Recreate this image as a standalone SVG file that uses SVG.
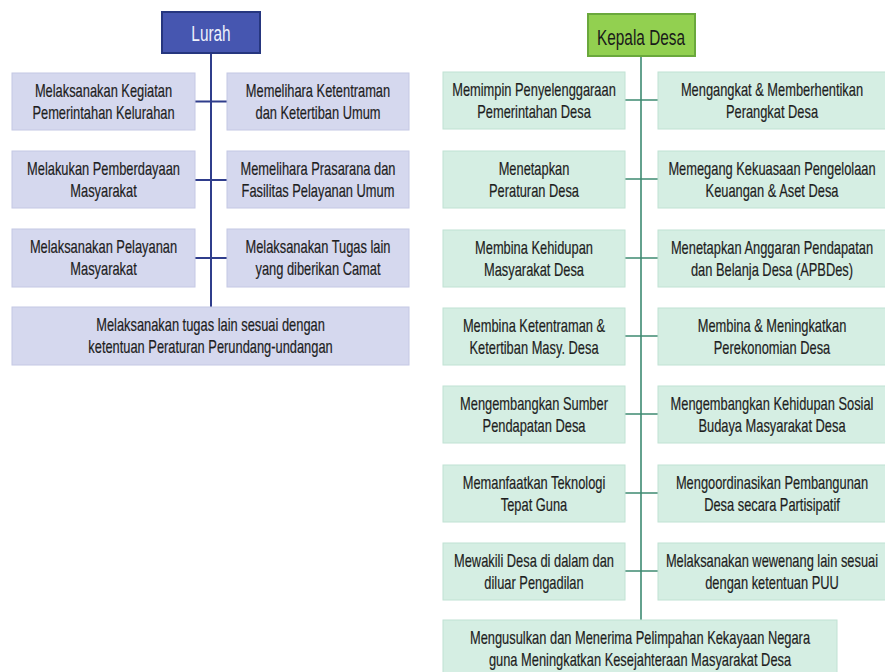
<svg xmlns="http://www.w3.org/2000/svg" width="885" height="672" viewBox="0 0 885 672">
<style>
.bg{fill:#ffffff}
.lb{fill:#d5d8ee;stroke:#c4c8e4;stroke-width:1}
.gb{fill:#d5eee3;stroke:#c0e2d3;stroke-width:1}
.t{font-family:"Liberation Sans",Arial,sans-serif;font-size:18px;fill:#1e1e1e;stroke:#1e1e1e;stroke-width:0.2;text-anchor:middle}
.h1{fill:#4656b0;stroke:#26367f;stroke-width:2}
.h2{fill:#92d050;stroke:#6aa83c;stroke-width:2}
.ht{font-family:"Liberation Sans",Arial,sans-serif;font-size:22px;text-anchor:middle}
.cl{stroke:#2f3d8c;stroke-width:2;fill:none}
.cg{stroke:#3e8a72;stroke-width:1.6;fill:none}
</style>
<rect class="bg" x="0" y="0" width="885" height="672"/>
<g id="connectors">
<path class="cl" d="M211 53V307M195 101.5H227M195 180H227M195 258H227"/>
<path class="cg" d="M641 56V620M625 100H658M625 179H658M625 258H658M625 336H658M625 414H658M625 493H658M625 571H658"/>
</g>
<g id="lurah">
<rect class="h1" x="162" y="12" width="98" height="41"/>
<text class="ht" fill="#eef1fb" transform="translate(211 0) scale(0.70 1)" y="41">Lurah</text>
</g>
<g id="l1"><rect class="lb" x="12" y="73" width="183" height="57"/>
<text class="t" transform="translate(103.5 0) scale(0.715 1)"><tspan x="0" y="97">Melaksanakan Kegiatan</tspan><tspan x="0" y="119">Pemerintahan Kelurahan</tspan></text></g>
<g id="r1"><rect class="lb" x="227" y="73" width="182" height="57"/>
<text class="t" transform="translate(318 0) scale(0.715 1)"><tspan x="0" y="97">Memelihara Ketentraman</tspan><tspan x="0" y="119">dan Ketertiban Umum</tspan></text></g>
<g id="l2"><rect class="lb" x="12" y="151" width="183" height="57"/>
<text class="t" transform="translate(103.5 0) scale(0.715 1)"><tspan x="0" y="175">Melakukan Pemberdayaan</tspan><tspan x="0" y="197">Masyarakat</tspan></text></g>
<g id="r2"><rect class="lb" x="227" y="151" width="182" height="57"/>
<text class="t" transform="translate(318 0) scale(0.715 1)"><tspan x="0" y="175">Memelihara Prasarana dan</tspan><tspan x="0" y="197">Fasilitas Pelayanan Umum</tspan></text></g>
<g id="l3"><rect class="lb" x="12" y="229" width="183" height="58"/>
<text class="t" transform="translate(103.5 0) scale(0.715 1)"><tspan x="0" y="253">Melaksanakan Pelayanan</tspan><tspan x="0" y="275">Masyarakat</tspan></text></g>
<g id="r3"><rect class="lb" x="227" y="229" width="182" height="58"/>
<text class="t" transform="translate(318 0) scale(0.715 1)"><tspan x="0" y="253">Melaksanakan Tugas lain</tspan><tspan x="0" y="275">yang diberikan Camat</tspan></text></g>
<g id="l4"><rect class="lb" x="12" y="307" width="397" height="58"/>
<text class="t" transform="translate(210.5 0) scale(0.715 1)"><tspan x="0" y="331">Melaksanakan tugas lain sesuai dengan</tspan><tspan x="0" y="353">ketentuan Peraturan Perundang-undangan</tspan></text></g>

<g id="kepala">
<rect class="h2" x="588" y="14" width="107" height="42"/>
<text class="ht" fill="#1a1a1a" transform="translate(641 0) scale(0.70 1)" y="45">Kepala Desa</text>
</g>
<g id="k1l"><rect class="gb" x="443" y="72" width="182" height="57"/>
<text class="t" transform="translate(534 0) scale(0.715 1)"><tspan x="0" y="96">Memimpin Penyelenggaraan</tspan><tspan x="0" y="118">Pemerintahan Desa</tspan></text></g>
<g id="k1r"><rect class="gb" x="658" y="72" width="229" height="57"/>
<text class="t" transform="translate(772 0) scale(0.715 1)"><tspan x="0" y="96">Mengangkat &amp; Memberhentikan</tspan><tspan x="0" y="118">Perangkat Desa</tspan></text></g>
<g id="k2l"><rect class="gb" x="443" y="151" width="182" height="57"/>
<text class="t" transform="translate(534 0) scale(0.715 1)"><tspan x="0" y="175">Menetapkan</tspan><tspan x="0" y="197">Peraturan Desa</tspan></text></g>
<g id="k2r"><rect class="gb" x="658" y="151" width="229" height="57"/>
<text class="t" transform="translate(772 0) scale(0.715 1)"><tspan x="0" y="175">Memegang Kekuasaan Pengelolaan</tspan><tspan x="0" y="197">Keuangan &amp; Aset Desa</tspan></text></g>
<g id="k3l"><rect class="gb" x="443" y="230" width="182" height="57"/>
<text class="t" transform="translate(534 0) scale(0.715 1)"><tspan x="0" y="254">Membina Kehidupan</tspan><tspan x="0" y="276">Masyarakat Desa</tspan></text></g>
<g id="k3r"><rect class="gb" x="658" y="230" width="229" height="57"/>
<text class="t" transform="translate(772 0) scale(0.715 1)"><tspan x="0" y="254">Menetapkan Anggaran Pendapatan</tspan><tspan x="0" y="276">dan Belanja Desa (APBDes)</tspan></text></g>
<g id="k4l"><rect class="gb" x="443" y="308" width="182" height="57"/>
<text class="t" transform="translate(534 0) scale(0.715 1)"><tspan x="0" y="332">Membina Ketentraman &amp;</tspan><tspan x="0" y="354">Ketertiban Masy. Desa</tspan></text></g>
<g id="k4r"><rect class="gb" x="658" y="308" width="229" height="57"/>
<text class="t" transform="translate(772 0) scale(0.715 1)"><tspan x="0" y="332">Membina &amp; Meningkatkan</tspan><tspan x="0" y="354">Perekonomian Desa</tspan></text></g>
<g id="k5l"><rect class="gb" x="443" y="386" width="182" height="57"/>
<text class="t" transform="translate(534 0) scale(0.715 1)"><tspan x="0" y="410">Mengembangkan Sumber</tspan><tspan x="0" y="432">Pendapatan Desa</tspan></text></g>
<g id="k5r"><rect class="gb" x="658" y="386" width="229" height="57"/>
<text class="t" transform="translate(772 0) scale(0.715 1)"><tspan x="0" y="410">Mengembangkan Kehidupan Sosial</tspan><tspan x="0" y="432">Budaya Masyarakat Desa</tspan></text></g>
<g id="k6l"><rect class="gb" x="443" y="465" width="182" height="57"/>
<text class="t" transform="translate(534 0) scale(0.715 1)"><tspan x="0" y="489">Memanfaatkan Teknologi</tspan><tspan x="0" y="511">Tepat Guna</tspan></text></g>
<g id="k6r"><rect class="gb" x="658" y="465" width="229" height="57"/>
<text class="t" transform="translate(772 0) scale(0.715 1)"><tspan x="0" y="489">Mengoordinasikan Pembangunan</tspan><tspan x="0" y="511">Desa secara Partisipatif</tspan></text></g>
<g id="k7l"><rect class="gb" x="443" y="543" width="182" height="57"/>
<text class="t" transform="translate(534 0) scale(0.715 1)"><tspan x="0" y="567">Mewakili Desa di dalam dan</tspan><tspan x="0" y="589">diluar Pengadilan</tspan></text></g>
<g id="k7r"><rect class="gb" x="658" y="543" width="229" height="57"/>
<text class="t" transform="translate(772 0) scale(0.715 1)"><tspan x="0" y="567">Melaksanakan wewenang lain sesuai</tspan><tspan x="0" y="589">dengan ketentuan PUU</tspan></text></g>
<g id="k8"><rect class="gb" x="443" y="620" width="394" height="60"/>
<text class="t" transform="translate(640 0) scale(0.715 1)"><tspan x="0" y="644">Mengusulkan dan Menerima Pelimpahan Kekayaan Negara</tspan><tspan x="0" y="666">guna Meningkatkan Kesejahteraan Masyarakat Desa</tspan></text></g>
</svg>
